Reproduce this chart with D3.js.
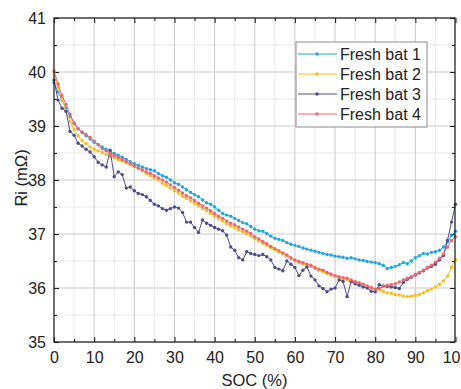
<!DOCTYPE html>
<meta charset="utf-8">
<style>
body { margin: 0; background: #fff; }
text { font-family: "Liberation Sans", Arial, sans-serif; fill: #222; }
.grid line { stroke: #c9c9c9; stroke-width: 1; }
.grid .minor { stroke: #e8e8e8; }
.frame { fill: none; stroke: #222; stroke-width: 1.3; }
</style>
<svg width="461" height="389"></svg>
<script src="https://d3js.org/d3.v7.min.js"></script>
<script>

var soc = d3.range(0, 101);

var names = ["Fresh bat 1", "Fresh bat 2", "Fresh bat 3", "Fresh bat 4"];
var colors = ["#22a7e6", "#fbbd1c", "#4e4c8c", "#ee6670"];

var xTicks = [0, 10, 20, 30, 40, 50, 60, 70, 80, 90, 100];
var yTicks = [35, 36, 37, 38, 39, 40, 41];

var bat1 = [39.80,39.63,39.48,39.33,39.18,39.05,38.95,38.88,38.82,38.76,
  38.70,38.66,38.61,38.57,38.52,38.49,38.46,38.42,38.38,38.34,
  38.30,38.27,38.24,38.21,38.19,38.17,38.12,38.08,38.05,38.00,
  37.95,37.92,37.87,37.82,37.77,37.73,37.69,37.63,37.58,37.55,
  37.50,37.44,37.38,37.35,37.33,37.29,37.25,37.21,37.19,37.14,
  37.09,37.06,37.05,37.01,36.96,36.92,36.90,36.88,36.84,36.81,
  36.79,36.77,36.74,36.72,36.70,36.68,36.66,36.64,36.62,36.61,
  36.59,36.58,36.57,36.55,36.56,36.54,36.52,36.51,36.49,36.48,
  36.47,36.45,36.42,36.36,36.38,36.40,36.43,36.47,36.45,36.50,
  36.56,36.60,36.64,36.63,36.66,36.67,36.70,36.76,36.85,36.97,
  37.05];

var bat2 = [40.00,39.72,39.50,39.28,39.08,38.93,38.82,38.73,38.67,38.61,
  38.57,38.54,38.51,38.47,38.44,38.41,38.38,38.35,38.32,38.28,
  38.25,38.21,38.17,38.12,38.08,38.03,38.00,37.94,37.90,37.85,
  37.80,37.76,37.70,37.66,37.61,37.57,37.52,37.47,37.43,37.38,
  37.33,37.28,37.24,37.19,37.15,37.12,37.08,37.04,37.00,36.96,
  36.91,36.87,36.83,36.79,36.75,36.71,36.67,36.63,36.59,36.54,
  36.50,36.47,36.44,36.42,36.40,36.36,36.33,36.30,36.27,36.24,
  36.21,36.19,36.17,36.15,36.13,36.11,36.09,36.06,36.03,36.00,
  35.98,35.97,35.94,35.91,35.90,35.88,35.87,35.85,35.84,35.85,
  35.86,35.88,35.91,35.95,35.98,36.02,36.07,36.13,36.22,36.38,
  36.52];

var bat3 = [39.85,39.48,39.33,39.27,38.90,38.83,38.68,38.63,38.57,38.52,
  38.43,38.33,38.28,38.24,38.55,38.06,38.15,38.10,37.85,37.87,
  37.80,37.75,37.73,37.69,37.62,37.55,37.52,37.47,37.44,37.47,
  37.50,37.48,37.40,37.22,37.22,37.12,37.03,37.26,37.20,37.16,
  37.12,37.09,37.06,36.98,36.76,36.70,36.56,36.52,36.67,36.64,
  36.62,36.60,36.62,36.58,36.52,36.38,36.35,36.32,36.50,36.44,
  36.38,36.23,36.33,36.39,36.22,36.15,36.04,35.99,35.93,35.98,
  36.00,36.15,36.12,35.84,36.12,36.08,36.05,36.02,36.00,35.94,
  35.93,36.06,36.04,36.03,36.02,36.01,35.99,36.10,36.16,36.20,
  36.24,36.28,36.32,36.37,36.40,36.44,36.52,36.60,36.88,37.22,
  37.55];

var bat4 = [40.02,39.78,39.56,39.40,39.22,39.05,38.95,38.89,38.84,38.79,
  38.72,38.65,38.58,38.54,38.49,38.45,38.42,38.38,38.34,38.30,
  38.26,38.22,38.19,38.15,38.12,38.08,38.04,38.00,37.96,37.91,
  37.86,37.81,37.76,37.71,37.67,37.62,37.57,37.52,37.48,37.43,
  37.38,37.33,37.29,37.24,37.20,37.17,37.13,37.09,37.05,37.01,
  36.95,36.91,36.86,36.82,36.77,36.73,36.69,36.65,36.61,36.56,
  36.52,36.49,36.47,36.44,36.42,36.38,36.35,36.33,36.29,36.26,
  36.23,36.21,36.19,36.18,36.15,36.12,36.10,36.07,36.04,36.01,
  35.98,35.99,36.03,36.05,36.06,36.08,36.11,36.15,36.18,36.21,
  36.25,36.29,36.33,36.38,36.42,36.48,36.55,36.63,36.76,36.88,
  36.95];

var series = [bat1, bat2, bat3, bat4];

var svg = d3.select("svg"),
    margin = {top: 18, right: 6, bottom: 47, left: 54},
    width = +svg.attr("width") - margin.left - margin.right,
    height = +svg.attr("height") - margin.top - margin.bottom;

var x = d3.scaleLinear().domain([0, 100]).range([0, width + 0.5]),
    y = d3.scaleLinear().domain([35, 41]).range([height, 0]);

var g = svg.append("g")
    .attr("transform", "translate(" + margin.left + "," + margin.top + ")");

// grid, minor first so majors sit on top
var grid = g.append("g").attr("class", "grid");
grid.selectAll(".vmin").data(d3.range(5, 100, 10)).enter().append("line")
    .attr("class", "minor")
    .attr("x1", x).attr("x2", x).attr("y1", 0).attr("y2", height);
grid.selectAll(".hmin").data(d3.range(35.5, 41, 1)).enter().append("line")
    .attr("class", "minor")
    .attr("y1", y).attr("y2", y).attr("x1", 0).attr("x2", width);
grid.selectAll(".vmaj").data(xTicks.slice(1, -1)).enter().append("line")
    .attr("x1", x).attr("x2", x).attr("y1", 0).attr("y2", height);
grid.selectAll(".hmaj").data(yTicks.slice(1, -1)).enter().append("line")
    .attr("y1", y).attr("y2", y).attr("x1", 0).attr("x2", width);

// axes with inward ticks on all four sides
function tickAxis(axis, tickVals, len) {
  return axis.tickValues(tickVals).tickSize(-len).tickFormat("");
}
var minorX = d3.range(5, 100, 10), minorY = d3.range(35.5, 41, 1);

g.append("g").attr("transform", "translate(0," + height + ")")
    .call(d3.axisBottom(x).tickValues(xTicks).tickSize(-5).tickPadding(10).tickFormat(d3.format("d")));
g.append("g").attr("transform", "translate(0," + height + ")")
    .call(tickAxis(d3.axisBottom(x), minorX, 3));
g.append("g").call(tickAxis(d3.axisTop(x), xTicks, -5).tickSize(-5));
g.append("g").call(tickAxis(d3.axisTop(x), minorX, 3));

g.append("g")
    .call(d3.axisLeft(y).tickValues(yTicks).tickSize(-5).tickPadding(8).tickFormat(d3.format("d")));
g.append("g").call(tickAxis(d3.axisLeft(y), minorY, 3));
g.append("g").attr("transform", "translate(" + width + ",0)")
    .call(tickAxis(d3.axisRight(y), yTicks, 5));
g.append("g").attr("transform", "translate(" + width + ",0)")
    .call(tickAxis(d3.axisRight(y), minorY, 3));

g.selectAll(".domain").remove();
g.selectAll(".tick line").attr("stroke", "#222").attr("stroke-width", 1.1);
g.selectAll(".tick text").attr("font-size", 16).attr("fill", "#333")
    .attr("font-family", "'Liberation Sans', Arial, sans-serif");

// series
var line = d3.line()
    .x(function(d, i) { return x(soc[i]); })
    .y(function(d) { return y(d); });

series.forEach(function(s, k) {
  var sg = g.append("g");
  sg.append("path")
      .datum(s)
      .attr("fill", "none")
      .attr("stroke", colors[k])
      .attr("stroke-width", 1)
      .attr("d", line);
  sg.selectAll("circle").data(s).enter().append("circle")
      .attr("cx", function(d, i) { return x(soc[i]); })
      .attr("cy", function(d) { return y(d); })
      .attr("r", 1.7)
      .attr("fill", colors[k]);
});

g.append("rect").attr("class", "frame")
    .attr("width", width).attr("height", height);

// legend
var lg = svg.append("g").attr("transform", "translate(296,42)");
lg.append("rect")
    .attr("width", 131).attr("height", 85)
    .attr("fill", "#fff").attr("stroke", "#8a8a8a").attr("stroke-width", 1);
names.forEach(function(n, k) {
  var yy = 12 + k * 20;
  lg.append("line").attr("x1", 2).attr("x2", 41).attr("y1", yy).attr("y2", yy)
      .attr("stroke", colors[k]).attr("stroke-width", 1);
  lg.append("circle").attr("cx", 21).attr("cy", yy).attr("r", 1.8).attr("fill", colors[k]);
  lg.append("text").attr("x", 44).attr("y", yy + 6)
      .attr("font-size", 16).text(n);
});

// axis titles
svg.append("text")
    .attr("x", margin.left + width / 2).attr("y", 386)
    .attr("text-anchor", "middle").attr("font-size", 16.5)
    .text("SOC (%)");
svg.append("text")
    .attr("transform", "translate(27,178) rotate(-90)")
    .attr("text-anchor", "middle").attr("font-size", 16.5)
    .text("Ri (mΩ)");

</script>
